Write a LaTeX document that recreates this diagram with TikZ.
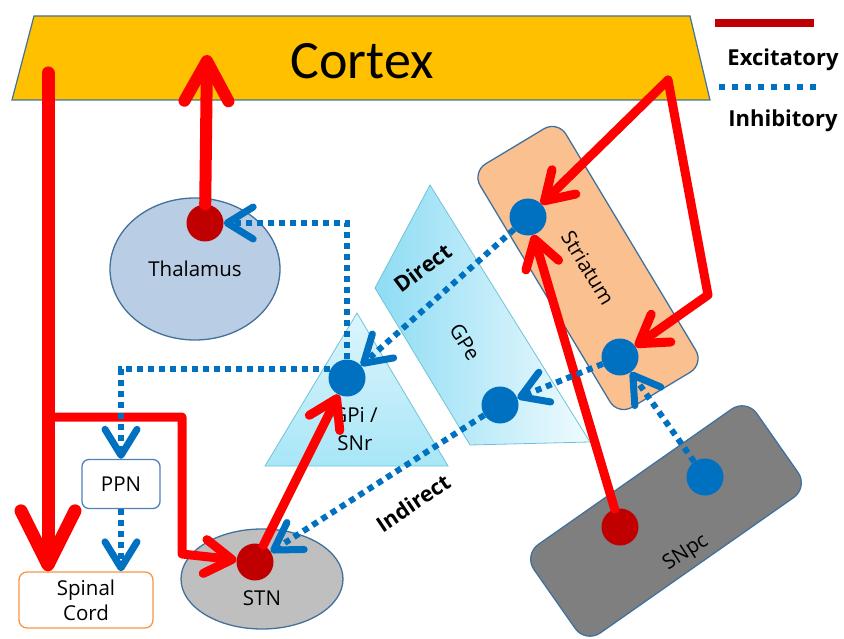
\documentclass[tikz,border=0pt]{standalone}
\usepackage{fontspec}
\setmainfont{Open Sans}
\newfontfamily\ctxfont{Carlito}
\usetikzlibrary{arrows.meta,shapes.geometric}
\definecolor{exred}{HTML}{FF0000}
\definecolor{dred}{HTML}{C00000}
\definecolor{ibl}{HTML}{0070C0}
\definecolor{ctxfill}{HTML}{FFC000}
\definecolor{edgeb}{HTML}{41719C}
\definecolor{thfill}{HTML}{B9CDE5}
\definecolor{stnfill}{HTML}{BFBFBF}
\definecolor{ppnb}{HTML}{4F81BD}
\definecolor{scb}{HTML}{F79646}
\definecolor{gpb}{HTML}{6FC3D8}
\definecolor{gpitop}{HTML}{DDF5FC}
\definecolor{gpibot}{HTML}{A8E6F7}
\definecolor{gpedark}{HTML}{8EDCF4}
\definecolor{gpelight}{HTML}{F0FBFE}
\definecolor{strf}{HTML}{FAC090}
\definecolor{snf}{HTML}{7F7F7F}
\begin{document}
\begin{tikzpicture}[x=1pt,y=-1pt,
  lbl/.style={font=\fontsize{20.5}{26}\selectfont, inner sep=0pt, align=center},
  blbl/.style={font=\bfseries\fontsize{21.5}{25}\selectfont, inner sep=0pt},
  rdot/.style={circle, fill=dred, minimum size=37pt, inner sep=0pt},
  bdot/.style={circle, fill=ibl, minimum size=37pt, inner sep=0pt},
  exc/.style={draw=exred, line width=9pt, line cap=round, line join=round,
    -{Straight Barb[length=27pt,width=34pt,round]}},
  excbig/.style={draw=exred, line width=12pt, line cap=round, line join=round,
    -{Straight Barb[length=40pt,width=44pt,round]}},
  exchuge/.style={draw=exred, line width=13pt, line cap=round, line join=round,
    -{Straight Barb[length=54pt,width=54pt,round]}},
  inh/.style={draw=ibl, line width=6pt, line cap=butt, dash pattern=on 6pt off 5pt,
    -{Straight Barb[length=26pt,width=32pt,line width=7pt,round]}}
]
\useasboundingbox (0,0) rectangle (844,639);

% Cortex
\draw[fill=ctxfill, draw=edgeb, line width=1.2pt] (34,16) -- (690,16) -- (710,100) -- (12,100) -- cycle;
\node[anchor=base, font=\ctxfont\fontsize{54}{60}\selectfont, inner sep=0pt] (cortex) at (362,79) {Cortex};

% Legend
\coordinate (lgA) at (715,23);
\coordinate (lgB) at (814,23);
\coordinate (lgC) at (719,87);
\coordinate (lgD) at (817,87);
\draw[dred, line width=8pt] (lgA) -- (lgB);
\node[font=\bfseries\fontsize{22}{26}\selectfont, inner sep=0pt] (exl) at (783,60) {Excitatory};
\draw[ibl, line width=6pt, dash pattern=on 6pt off 7pt] (lgC) -- (lgD);
\node[font=\bfseries\fontsize{22}{26}\selectfont, inner sep=0pt] (inl) at (783,121) {Inhibitory};

% Regions
\node[ellipse, draw=edgeb, fill=thfill, line width=1.3pt, minimum width=170pt, minimum height=142pt, lbl] (thal) at (195,269) {Thalamus};
\node[ellipse, draw=edgeb, fill=stnfill, line width=1.3pt, minimum width=162pt, minimum height=100pt] (stn) at (262,579) {};
\node[lbl] (stnl) at (262,598) {STN};
\node[draw=ppnb, fill=white, rounded corners=7pt, minimum width=78pt, minimum height=49pt, line width=1.3pt, lbl] (ppn) at (121,484) {PPN};
\node[draw=scb, fill=white, rounded corners=8pt, minimum width=134pt, minimum height=56pt, line width=1.3pt, lbl, font=\fontsize{20.5}{25}\selectfont] (sc) at (86,600) {Spinal\\Cord};

\draw[draw=gpb, top color=gpitop, bottom color=gpibot, line width=0.8pt] (357,313) -- (448,466) -- (265,466) -- cycle;
\node[lbl, font=\fontsize{20.5}{28}\selectfont] (gpil) at (355,429) {GPi /\\SNr};

\draw[draw=gpb, left color=gpedark, right color=gpelight, line width=0.8pt] (430,185) -- (590,442) -- (470,445) -- (375,288) -- cycle;
\node[lbl, rotate=-58] (gpel) at (465,342) {GPe};
\node[blbl, rotate=37] (dirl) at (423,268) {Direct};
\node[blbl, rotate=34] (indl) at (413,503) {Indirect};

\node[draw=edgeb, fill=strf, rounded corners=16pt, minimum width=284pt, minimum height=100pt, line width=1.3pt, rotate=-59, lbl] (str) at (588,268) {Striatum};
\node[draw=edgeb, fill=snf, rounded corners=18pt, minimum width=272pt, minimum height=108pt, line width=1.3pt, rotate=35] (snpc) at (666,521) {};
\node[lbl, rotate=33] (snpcl) at (686,553) {SNpc};

% Neurons
\node[rdot] (thdot) at (205,223) {};
\node[bdot] (gpidot) at (347,378) {};
\node[bdot] (sdot1) at (528,217) {};
\node[bdot] (sdot2) at (620,357) {};
\node[bdot] (gpedot) at (500,405) {};
\node[rdot] (stndot) at (255,562) {};
\node[rdot] (snr) at (620,527) {};
\node[bdot] (snb) at (705,477) {};

% Coordinates
\coordinate (ctxA) at (48,73);
\coordinate (ctxB) at (207,55);
\coordinate (ctxC) at (668,80);
\coordinate (brA) at (48,417);
\coordinate (brB) at (182,417);
\coordinate (brC) at (182,554);
\coordinate (kink) at (708,295);

% Excitatory
\draw[excbig] (thdot) -- (ctxB);
\draw[exchuge] (ctxA) -- (ctxA |- sc.north);
\draw[exc] (brA) -- (brB) -- (brC) -- (stndot);
\draw[exc] (stndot) -- (gpidot);
\draw[exc] (ctxC) -- (sdot1);
\draw[exc] (ctxC) -- (kink) -- (sdot2);
\draw[exc] (snr) -- (sdot1);

% Inhibitory
\draw[inh] (gpidot) -- (gpidot |- thdot) -- (thdot);
\draw[inh] (gpidot.152) -- (gpidot.152 -| ppn.north) -- (ppn.north);
\draw[inh] (ppn.south) -- (ppn.south |- sc.north);
\draw[inh] (sdot1) -- (gpidot);
\draw[inh] (sdot2) -- (gpedot);
\draw[inh] (gpedot) -- (stndot);
\draw[inh] (snb) -- (sdot2);
\end{tikzpicture}
\end{document}
